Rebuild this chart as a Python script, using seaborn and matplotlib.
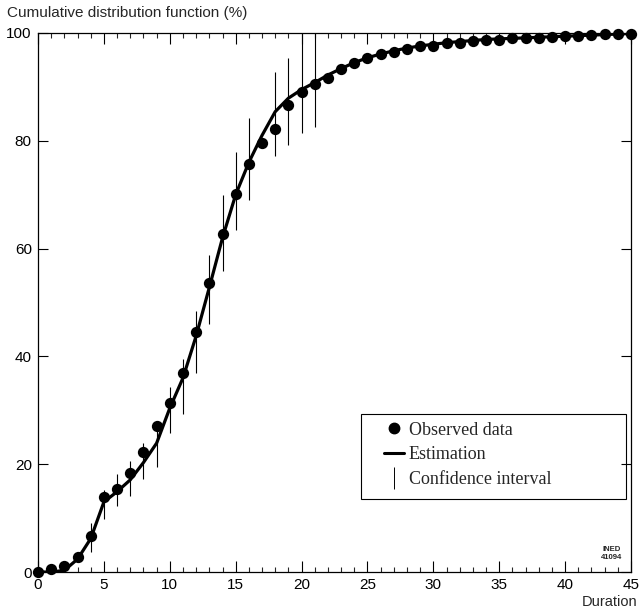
import numpy as np
import pandas as pd
import matplotlib
matplotlib.use("Agg")
import matplotlib.pyplot as plt
import seaborn as sns
from matplotlib.lines import Line2D
from matplotlib.patches import Rectangle
from matplotlib.ticker import MultipleLocator

# ---- data ----
duration = list(range(0, 46))
observed = [0.0, 0.6, 1.2, 2.7, 6.7, 14.0, 15.4, 18.3, 22.3, 27.0,
            31.4, 37.0, 44.6, 53.7, 62.7, 70.1, 75.6, 79.6, 82.2, 86.6,
            89.0, 90.5, 91.7, 93.4, 94.5, 95.3, 96.1, 96.5, 97.0, 97.5,
            97.6, 98.1, 98.1, 98.6, 98.7, 98.7, 99.0, 99.0, 99.0, 99.2,
            99.4, 99.4, 99.6, 99.8, 99.8, 99.9]
estimation = [0.0, 0.0, 0.3, 2.4, 6.2, 13.0, 14.9, 17.1, 20.3, 23.9,
              30.4, 36.0, 43.8, 52.8, 62.0, 70.0, 76.0, 81.0, 85.4, 87.9,
              89.5, 90.8, 92.2, 93.4, 94.5, 95.4, 96.1, 96.7, 97.2, 97.6,
              97.9, 98.2, 98.4, 98.6, 98.8, 98.9, 99.0, 99.1, 99.2, 99.3,
              99.4, 99.5, 99.6, 99.7, 99.8, 99.9]
ci_duration = [4, 5, 6, 7, 8, 9, 10, 11, 12, 13, 14, 15, 16, 18, 19, 20, 21]
ci_low = [3.8, 9.8, 12.2, 14.1, 17.2, 19.4, 25.7, 29.4, 37.0, 46.0,
          55.8, 63.5, 69.0, 77.1, 79.2, 81.5, 82.5]
ci_high = [9.0, 15.3, 18.1, 20.6, 24.0, 27.4, 34.4, 39.6, 48.4, 58.9,
           69.9, 78.0, 84.2, 92.8, 95.4, 100.0, 100.0]

legend_labels = ["Observed data", "Estimation", "Confidence interval"]
x_label = "Duration"
y_title = "Cumulative distribution function (%)"
source_note = "INED\n41094"

# ---- style ----
sns.set_style("ticks")
plt.rcParams['font.family'] = ['Liberation Sans', 'DejaVu Sans']

fig = plt.figure(figsize=(6.39, 6.14), dpi=100)
ax = fig.add_axes([0.0595, 0.0684, 0.928, 0.8779])

df_obs = pd.DataFrame({"duration": duration, "observed": observed})
df_est = pd.DataFrame({"duration": duration, "estimation": estimation})

ax.vlines(ci_duration, ci_low, ci_high, color="black", lw=0.8, zorder=2)
sns.lineplot(data=df_est, x="duration", y="estimation", color="black",
             lw=2.3, ax=ax, zorder=3)
sns.scatterplot(data=df_obs, x="duration", y="observed", color="black",
                s=66, linewidth=0, zorder=4, clip_on=False, ax=ax)

ax.set_xlim(0, 45)
ax.set_ylim(0, 100)
ax.set_xlabel("")
ax.set_ylabel("")
ax.xaxis.set_major_locator(MultipleLocator(5))
ax.xaxis.set_minor_locator(MultipleLocator(1))
ax.yaxis.set_major_locator(MultipleLocator(20))
ax.tick_params(axis="x", which="major", direction="in", length=8, width=0.8,
               top=True, bottom=True, labelsize=11, pad=4.5, colors="black")
ax.tick_params(axis="x", which="minor", direction="in", length=3.5, width=0.8,
               top=True, bottom=True)
ax.tick_params(axis="y", which="major", direction="in", length=7, width=0.8,
               left=True, right=True, labelsize=11, pad=4.5, colors="black")
for s in ax.spines.values():
    s.set_visible(True)
    s.set_linewidth(0.9)
    s.set_color("black")

# legend
handles = [
    Line2D([], [], marker="o", color="black", linestyle="none", markersize=7.5),
    Line2D([], [], color="black", lw=2.2),
    Line2D([], [], marker="|", color="black", linestyle="none",
           markersize=16, markeredgewidth=0.7),
]
ax.legend(handles, legend_labels, loc="upper left",
          bbox_to_anchor=(0.584, 0.279), borderpad=0, borderaxespad=0,
          handlelength=1.1, handletextpad=0.25, labelspacing=0.43,
          frameon=False, prop={"family": "Liberation Serif", "size": 13})
ax.add_patch(Rectangle((0.544, 0.135), 0.4476, 0.158, transform=ax.transAxes,
                       fill=False, lw=0.8, ec="black", zorder=5, clip_on=False))

ax.text(0.968, 0.034, source_note, transform=ax.transAxes, fontsize=5.6,
        ha="center", va="center", fontweight="bold", linespacing=1.15)

fig.text(7 / 639, 1 - 13.5 / 614, y_title, ha="left", va="center", fontsize=11)
fig.text(0.998, 1 - 602 / 614, x_label, ha="right", va="center", fontsize=10.5)

fig.savefig("out.png", dpi=100, facecolor="white")
